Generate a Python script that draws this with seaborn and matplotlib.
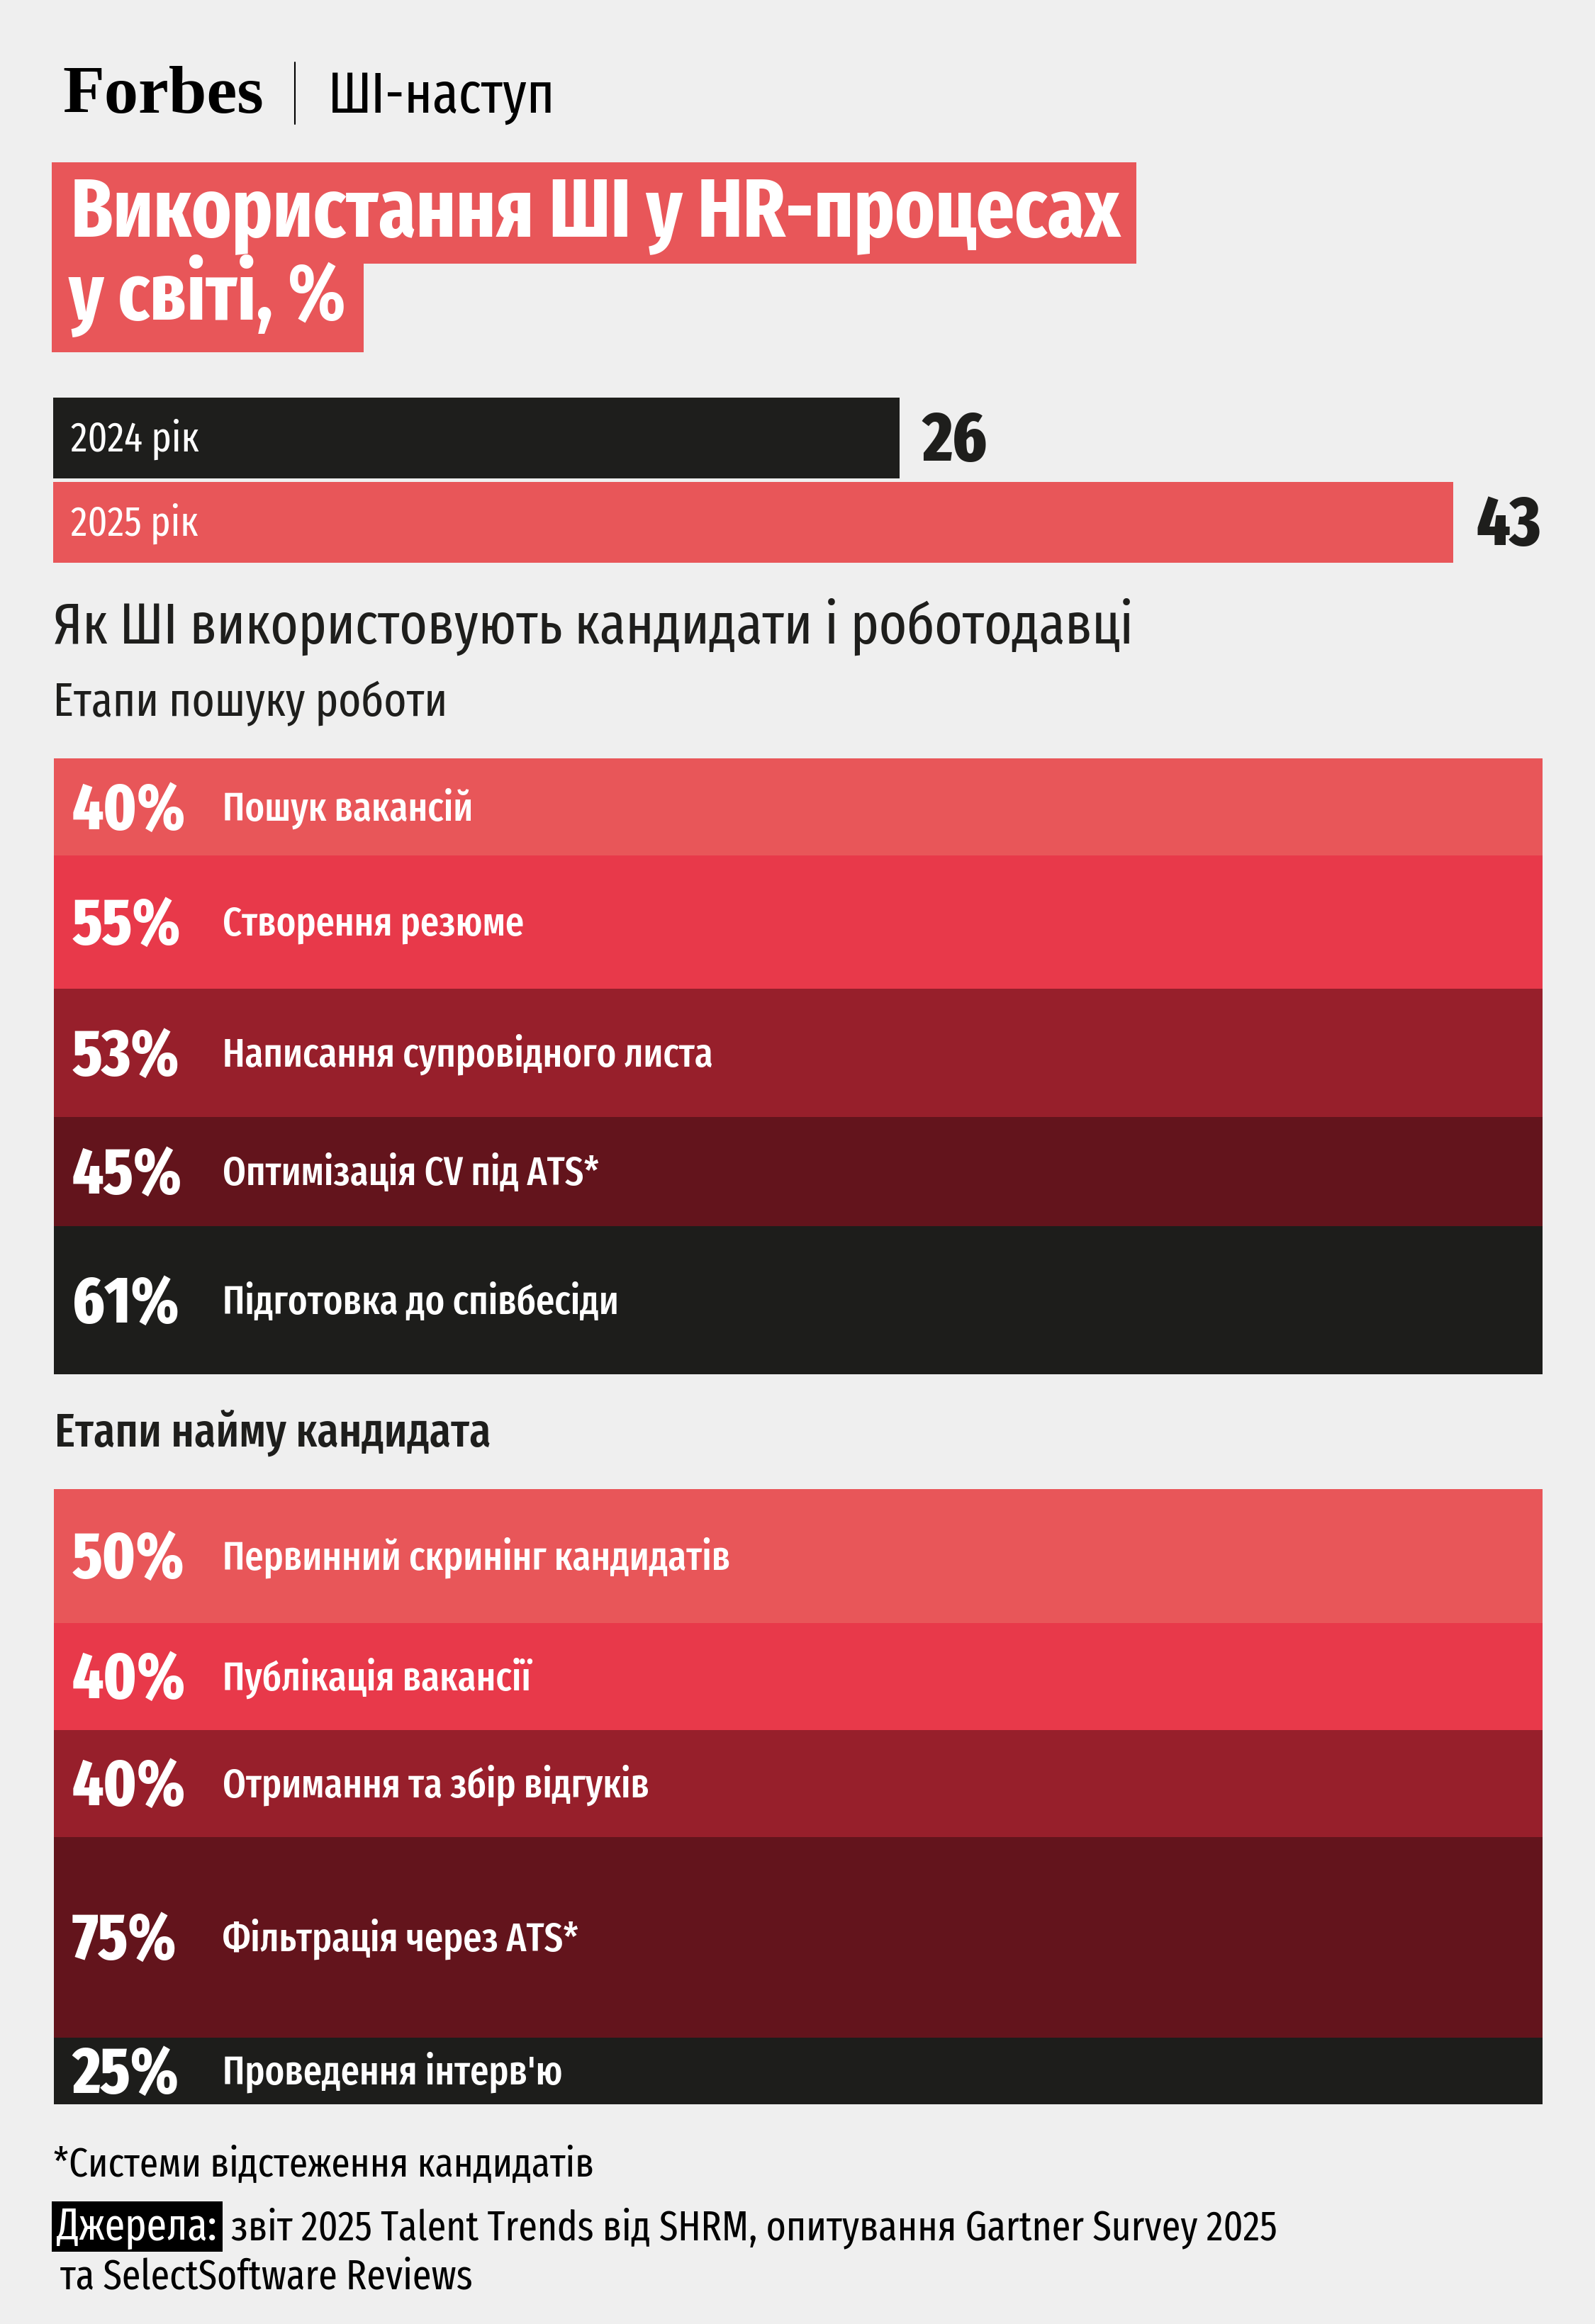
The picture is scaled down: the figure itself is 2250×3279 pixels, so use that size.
import numpy as np
import matplotlib
matplotlib.use("Agg")
import matplotlib.pyplot as plt
import seaborn as sns
from matplotlib.patches import Rectangle

# data
year_labels = ['2024 рік', '2025 рік']
year_values = [26, 43]
year_colors = ['#1e1e1c', '#e85659']

search_labels = ['Пошук вакансій', 'Створення резюме', 'Написання супровідного листа',
                 'Оптимізація CV під ATS*', 'Підготовка до співбесіди']
search_values = [40, 55, 53, 45, 61]

hire_labels = ['Первинний скринінг кандидатів', 'Публікація вакансії', 'Отримання та збір відгуків',
               'Фільтрація через ATS*', "Проведення інтерв'ю"]
hire_values = [50, 40, 40, 75, 25]

block_colors = ['#e85659', '#e8394a', '#971f2b', '#63141c', '#1d1d1b']

BG = '#efefef'
DARK = '#1e1e1c'
W, H = 2250, 3279
PT = 0.72  # points per pixel at dpi 100

sns.set_theme(style='white')
plt.rcParams['font.family'] = ['Fira Sans Extra Condensed', 'Liberation Sans Narrow', 'DejaVu Sans']

fig = plt.figure(figsize=(W / 100, H / 100), dpi=100, facecolor=BG)
bg = fig.add_axes([0, 0, 1, 1])
bg.set_xlim(0, W)
bg.set_ylim(H, 0)
bg.axis('off')


def px_axes(x0, y0, x1, y1):
    a = fig.add_axes([x0 / W, 1 - y1 / H, (x1 - x0) / W, (y1 - y0) / H])
    a.patch.set_alpha(0)
    return a


# header
forbes = bg.text(88, 159, 'Forbes', family=['Liberation Serif', 'DejaVu Serif'], fontweight='bold',
                 fontsize=70, color='black', va='baseline')
bg.plot([416, 416], [88, 175], color='black', lw=1.5)
section = bg.text(463, 159, 'ШІ-наступ', fontsize=64, color='black', va='baseline')

# title on red boxes
bg.add_patch(Rectangle((73, 229), 1530, 143, color='#e85659', lw=0))
bg.add_patch(Rectangle((73, 371), 440, 126, color='#e85659', lw=0))
t1 = bg.text(100, 333, 'Використання ШІ у HR-процесах', fontsize=85, fontweight='bold', color='white', va='baseline')
t2 = bg.text(97, 451, 'у світі, %', fontsize=85, fontweight='bold', color='white', va='baseline')

# year bars
ax_y = px_axes(75, 558.5, 2050, 796.5)
sns.barplot(x=year_values, y=year_labels, hue=year_labels, palette=year_colors, orient='h',
            width=114 / 119, saturation=1, linewidth=0, legend=False, ax=ax_y)
ax_y.set_xlim(0, max(year_values))
ax_y.set_ylim(1.5, -0.5)
ax_y.axis('off')
for i, (lab, v) in enumerate(zip(year_labels, year_values)):
    ax_y.annotate(lab, xy=(0, i), xytext=(25 * PT, -19 * PT), textcoords='offset points',
                  va='baseline', fontsize=42, color='white')
    ax_y.annotate(str(v), xy=(v, i), xytext=(32 * PT, -32 * PT), textcoords='offset points',
                  va='baseline', fontsize=71, fontweight='heavy', color=DARK, annotation_clip=False)

# headings
head = bg.text(75, 908, 'Як ШІ використовують кандидати і роботодавці', fontsize=63, color=DARK, va='baseline')
sub1 = bg.text(75, 1010, 'Етапи пошуку роботи', fontsize=48, color=DARK, va='baseline')
sub2 = bg.text(77, 2041, 'Етапи найму кандидата', fontsize=48, fontweight='medium', color=DARK, va='baseline')


def stacked_block(y0, y1, labels, values):
    ax = px_axes(76, y0, 2176, y1)
    bottoms = np.concatenate([[0], np.cumsum(values)[:-1]])
    ax.bar(0, values, bottom=bottoms, width=1, color=block_colors, linewidth=0)
    ax.set_xlim(-0.5, 0.5)
    ax.set_ylim(sum(values), 0)
    ax.axis('off')
    for lab, v, b in zip(labels, values, bottoms):
        c = b + v / 2
        ax.annotate(f'{v}%', xy=(-0.5, c), xytext=(26 * PT, -31 * PT), textcoords='offset points',
                    va='baseline', fontsize=66, fontweight='heavy', color='white')
        ax.annotate(lab, xy=(-0.5, c), xytext=(238 * PT, -19 * PT), textcoords='offset points',
                    va='baseline', fontsize=41, fontweight='medium', color='white')
    return ax


stacked_block(1070, 1939, search_labels, search_values)
stacked_block(2101, 2969, hire_labels, hire_values)

# footnote and sources
foot = bg.text(75, 3070, '*Системи відстеження кандидатів', fontsize=45, color='black', va='baseline')
src_lab = bg.text(80, 3160, 'Джерела:', fontsize=45, color='white', va='baseline', zorder=3)
src1 = bg.text(325, 3160, 'звіт 2025 Talent Trends від SHRM, опитування Gartner Survey 2025',
               fontsize=45, color='black', va='baseline')
src2 = bg.text(85, 3230, 'та SelectSoftware Reviews', fontsize=45, color='black', va='baseline')

# fit the main texts to the widths of the reference layout
fig.canvas.draw()
renderer = fig.canvas.get_renderer()


def fit(t, target):
    w = t.get_window_extent(renderer).width
    s = min(max(target / w, 0.85), 1.15)
    t.set_fontsize(t.get_fontsize() * s)


fit(forbes, 284)
fit(section, 321)
fit(t1, 1479)
fit(t2, 392)
fit(head, 1525)
fit(sub1, 556)
fit(sub2, 614)
fit(foot, 764)
fit(src1, 1477)
fit(src2, 582)
fig.canvas.draw()
ext = src_lab.get_window_extent(renderer)
bg.add_patch(Rectangle((73, 3106), ext.x1 + 8 - 73, 71, color='black', lw=0, zorder=2))
src1.set_x(ext.x1 + 20)

fig.savefig('out.png', dpi=100, facecolor=BG)
